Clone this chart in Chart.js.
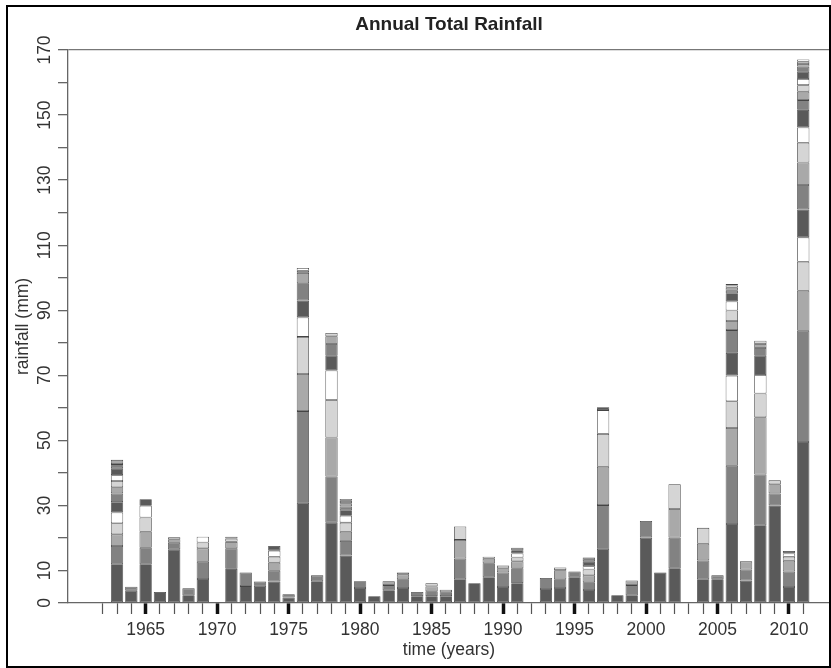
<!DOCTYPE html>
<html>
<head>
<meta charset="utf-8">
<title>Annual Total Rainfall</title>
<script src="https://cdn.jsdelivr.net/npm/chart.js@4.4.1/dist/chart.umd.min.js"></script>
<style>
  html, body { margin: 0; padding: 0; background: #fff; }
  #wrap { width: 831px; height: 668px; }
</style>
</head>
<body>
<div id="wrap"><canvas id="rainChart" width="831" height="668"></canvas></div>
<script>
// rainfall (mm) of each event in a year, bottom of the stack first
const r1962 = [];
const r1963 = [11.9, 5.6, 3.6, 3.4, 3.3, 3.2, 2.7, 1.9, 1.9, 1.8, 2.1, 1.3, 1.3];
const r1964 = [3.8, 1.2];
const r1965 = [11.9, 5.1, 4.9, 4.4, 3.6, 2.0];
const r1966 = [3.4];
const r1967 = [16.5, 2.0, 1.1, 0.6];
const r1968 = [2.4, 2.1];
const r1969 = [7.4, 5.3, 4.1, 1.8, 1.8];
const r1970 = [];
const r1971 = [10.5, 6.3, 2.0, 1.0, 0.6];
const r1972 = [5.2, 4.2];
const r1973 = [5.3, 1.3];
const r1974 = [6.6, 3.3, 2.5, 1.8, 1.9, 1.4];
const r1975 = [1.7, 1.0];
const r1976 = [30.8, 28.2, 11.4, 11.4, 6.0, 5.2, 5.3, 3.2, 0.6, 0.9];
const r1977 = [6.7, 1.8];
const r1978 = [24.7, 14.2, 12.0, 11.5, 9.1, 4.5, 3.6, 2.4, 1.0];
const r1979 = [14.6, 4.5, 2.8, 2.8, 2.1, 1.7, 1.2, 1.0, 0.7, 0.6];
const r1980 = [4.6, 2.1];
const r1981 = [2.1];
const r1982 = [3.9, 1.6, 1.2];
const r1983 = [4.6, 2.7, 1.5, 0.6];
const r1984 = [2.1, 1.3];
const r1985 = [2.1, 1.5, 1.5, 1.0];
const r1986 = [2.1, 1.2, 0.8];
const r1987 = [7.3, 6.4, 5.7, 4.1];
const r1988 = [6.1];
const r1989 = [7.9, 4.3, 1.4, 0.6];
const r1990 = [4.9, 4.5, 1.3, 0.8];
const r1991 = [6.1, 4.6, 2.1, 1.2, 1.2, 1.0, 0.8];
const r1992 = [];
const r1993 = [4.3, 3.4];
const r1994 = [4.6, 2.7, 2.8, 0.8];
const r1995 = [7.9, 1.8];
const r1996 = [4.0, 2.4, 2.1, 1.8, 1.0, 1.5, 1.2];
const r1997 = [16.7, 13.4, 11.8, 10.1, 7.3, 0.9];
const r1998 = [2.4];
const r1999 = [2.4, 3.1, 1.4];
const r2000 = [20.1, 5.1];
const r2001 = [9.4];
const r2002 = [10.7, 9.4, 8.8, 7.6];
const r2003 = [];
const r2004 = [7.3, 5.8, 5.1, 4.9];
const r2005 = [7.3, 1.2];
const r2006 = [24.3, 17.9, 11.6, 8.2, 7.9, 7.0, 7.0, 2.8, 3.2, 2.8, 2.5, 0.8, 0.9, 0.7, 0.5];
const r2007 = [6.9, 3.4, 2.5];
const r2008 = [23.9, 15.6, 17.6, 7.3, 5.7, 5.9, 2.4, 1.2, 1.0];
const r2009 = [30.0, 3.7, 2.8, 1.2];
const r2010 = [4.9, 4.8, 3.3, 1.2, 1.0, 0.8];
const r2011 = [49.5, 34.2, 12.3, 8.9, 7.5, 8.6, 7.5, 6.9, 6.1, 4.7, 5.4, 3.0, 2.6, 2.0, 1.9, 2.2, 1.6, 0.8, 0.7, 0.7];

const years = [1962, 1963, 1964, 1965, 1966, 1967, 1968, 1969, 1970, 1971,
  1972, 1973, 1974, 1975, 1976, 1977, 1978, 1979, 1980, 1981,
  1982, 1983, 1984, 1985, 1986, 1987, 1988, 1989, 1990, 1991,
  1992, 1993, 1994, 1995, 1996, 1997, 1998, 1999, 2000, 2001,
  2002, 2003, 2004, 2005, 2006, 2007, 2008, 2009, 2010, 2011];
const xLabelYears = [1965, 1970, 1975, 1980, 1985, 1990, 1995, 2000, 2005, 2010];
const yLabelValues = [0, 10, 30, 50, 70, 90, 110, 130, 150, 170];

const events = [r1962, r1963, r1964, r1965, r1966, r1967, r1968, r1969, r1970, r1971,
  r1972, r1973, r1974, r1975, r1976, r1977, r1978, r1979, r1980, r1981,
  r1982, r1983, r1984, r1985, r1986, r1987, r1988, r1989, r1990, r1991,
  r1992, r1993, r1994, r1995, r1996, r1997, r1998, r1999, r2000, r2001,
  r2002, r2003, r2004, r2005, r2006, r2007, r2008, r2009, r2010, r2011];

const greys = ["#5a5a5a", "#828282", "#a9a9a9", "#d5d5d5", "#ffffff"];
const font = "'Liberation Sans', Arial, sans-serif";

// one dataset per event rank, stacked on top of each other
const maxEvents = Math.max(...events.map(e => e.length));
const datasets = [];
for (let k = 0; k < maxEvents; k++) {
  datasets.push({
    data: events.map(e => (k < e.length ? e[k] : null)),
    backgroundColor: greys[k % greys.length],
    borderColor: "#444",
    borderWidth: 0.8,
    borderSkipped: false,
    barPercentage: 0.86,
    categoryPercentage: 1.0,
  });
}

const frame = {
  id: "frame",
  afterDraw(chart) {
    const c = chart.ctx;
    c.save();
    c.strokeStyle = "#000";
    c.lineWidth = 2;
    c.strokeRect(7, 6, 823, 661);
    c.restore();
  },
};

new Chart(document.getElementById("rainChart").getContext("2d"), {
  type: "bar",
  data: { labels: years, datasets: datasets },
  plugins: [frame],
  options: {
    responsive: false,
    animation: false,
    layout: { padding: { left: 0, right: 1, top: 0, bottom: 0 } },
    plugins: {
      legend: { display: false },
      tooltip: { enabled: false },
      title: {
        display: true,
        text: "Annual Total Rainfall",
        fullSize: false,
        color: "#222",
        font: { family: font, size: 19, weight: "bold" },
        padding: { top: 13, bottom: 14.2 },
      },
    },
    scales: {
      x: {
        type: "linear",
        stacked: true,
        min: 1959.57,
        max: 2012.87,
        offset: false,
        border: { display: true, color: "#666", width: 1.3 },
        grid: {
          offset: false,
          drawOnChartArea: false,
          drawTicks: true,
          tickLength: 11,
          tickWidth: ctx => (ctx.tick && ctx.tick.value % 5 === 0 ? 3.5 : 1.2),
          tickColor: ctx => (ctx.tick && ctx.tick.value % 5 === 0 ? "#111" : "#555"),
        },
        afterBuildTicks: scale => {
          scale.ticks = years.map(v => ({ value: v }));
        },
        ticks: {
          autoSkip: false,
          maxRotation: 0,
          minRotation: 0,
          padding: 6,
          color: "#333",
          font: { family: font, size: 17.5 },
          callback: v => (xLabelYears.includes(v) ? String(v) : ""),
        },
        title: {
          display: true,
          text: "time (years)",
          color: "#333",
          font: { family: font, size: 17.5 },
          padding: { top: 0, bottom: 7 },
        },
        afterFit: scale => { scale.height = 65; },
      },
      y: {
        stacked: true,
        min: 0,
        max: 170,
        border: { display: true, color: "#666", width: 1.3 },
        grid: {
          drawOnChartArea: true,
          tickLength: 10,
          lineWidth: 1.3,
          color: ctx => (ctx.tick && ctx.tick.value === 170 ? "#777" : "rgba(0,0,0,0)"),
          tickColor: "#666",
          tickWidth: 1.3,
        },
        ticks: {
          stepSize: 10,
          autoSkip: false,
          minRotation: 90,
          maxRotation: 90,
          crossAlign: "center",
          padding: -2,
          color: "#333",
          font: { family: font, size: 17.5 },
          callback: v => (yLabelValues.includes(v) ? String(v) : ""),
        },
        title: {
          display: true,
          text: "rainfall (mm)",
          color: "#333",
          font: { family: font, size: 17.5 },
          padding: { top: 13, bottom: 0 },
        },
        afterFit: scale => { scale.width = 68; },
      },
    },
  },
});
</script>
</body>
</html>
